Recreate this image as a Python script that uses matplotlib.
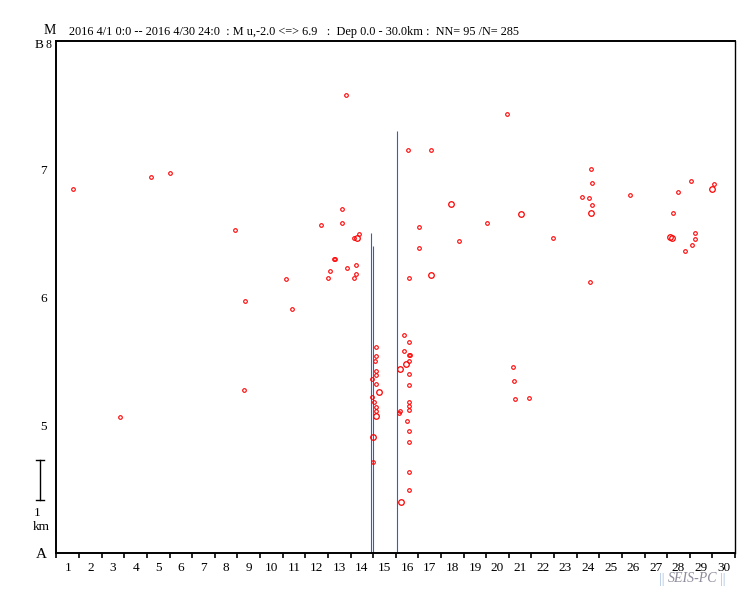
import matplotlib
matplotlib.use("Agg")
import matplotlib.pyplot as plt
from matplotlib.lines import Line2D
from matplotlib.transforms import ScaledTranslation

plt.rcParams['font.family'] = ['Liberation Serif', 'DejaVu Serif']

# ---- data (day of April 2016, magnitude, marker size class) ----
days = [0.73, 2.81, 4.19, 5.00, 7.89, 8.33, 8.28, 10.15, 10.40, 11.68,
        11.99, 12.08, 12.27, 12.31, 12.63, 12.63, 12.79, 12.83, 13.14, 13.29,
        13.36, 13.23, 13.23, 13.14,
        14.14, 14.14, 14.10, 14.14, 14.14, 13.97, 14.14, 14.26, 13.97, 14.05,
        14.14, 14.14, 14.12, 13.98, 14.00,
        15.38, 15.60, 15.38, 15.60, 15.62, 15.60, 15.44, 15.19, 15.60, 15.60,
        15.60, 15.60, 15.60, 15.19, 15.16, 15.51, 15.60, 15.60, 15.60, 15.60, 15.22,
        15.55, 16.57, 17.43, 16.04, 17.81, 16.04, 15.60, 16.54,
        20.19, 20.24, 20.28, 20.90,
        19.93, 23.64, 23.69, 23.25, 23.55, 23.69, 23.63, 25.37, 28.06, 27.49,
        29.08, 28.98, 27.27, 20.52, 19.02, 21.96, 27.11, 27.21, 28.22, 28.22,
        28.08, 27.80, 23.60]
mags = [6.84, 5.06, 6.94, 6.97, 6.52, 5.97, 5.27, 6.14, 5.91, 6.56,
        6.15, 6.20, 6.30, 6.30, 6.69, 6.58, 7.58, 6.23, 6.46, 6.46,
        6.49, 6.25, 6.18, 6.15,
        5.61, 5.54, 5.50, 5.42, 5.39, 5.36, 5.32, 5.26, 5.22, 5.18,
        5.14, 5.11, 5.07, 4.91, 4.71,
        5.70, 5.65, 5.58, 5.55, 5.55, 5.50, 5.48, 5.44, 5.40, 5.31,
        5.18, 5.15, 5.12, 5.11, 5.09, 5.03, 4.95, 4.87, 4.63, 4.49, 4.40,
        7.15, 7.15, 6.73, 6.55, 6.44, 6.38, 6.15, 6.17,
        5.45, 5.34, 5.20, 5.21,
        7.43, 7.00, 6.89, 6.78, 6.77, 6.72, 6.66, 6.80, 6.91, 6.82,
        6.88, 6.84, 6.66, 6.65, 6.58, 6.46, 6.47, 6.46, 6.50, 6.45,
        6.41, 6.36, 6.12]
large = [0, 0, 0, 0, 0, 0, 0, 0, 0, 0,
         0, 0, 0, 0, 0, 0, 0, 0, 0, 1,
         0, 0, 0, 0,
         0, 0, 0, 0, 0, 0, 0, 1, 0, 0,
         0, 0, 1, 1, 0,
         0, 0, 0, 0, 0, 0, 1, 1, 0, 0,
         0, 0, 0, 0, 0, 0, 0, 0, 0, 0, 1,
         0, 0, 1, 0, 0, 0, 0, 1,
         0, 0, 0, 0,
         0, 0, 0, 0, 0, 0, 1, 0, 0, 0,
         0, 1, 0, 1, 0, 0, 1, 1, 0, 0,
         0, 0, 0]

bar_days = [13.92, 14.00, 15.07]
bar_tops = [6.50, 6.40, 7.30]

day_labels = [str(i) for i in range(1, 31)]
mag_ticks = [4, 5, 6, 7, 8]
mag_labels = ["A", "5", "6", "7", "8"]

title = "2016 4/1 0:0 -- 2016 4/30 24:0  : M u,-2.0 <=> 6.9   :  Dep 0.0 - 30.0km :  NN= 95 /N= 285"

W, H = 751, 593
def fx(px): return px / W
def fy(py): return 1 - py / H

fig = plt.figure(figsize=(W / 100, H / 100), dpi=100)
ax = fig.add_axes([fx(56.5), 40 / H, 678.5 / W, 512 / H])
ax.set_xlim(0, 30)
ax.set_ylim(4, 8)

# vertical bars
ax.vlines(bar_days, 4, bar_tops, colors='#2a5fd8', linewidth=0.8, zorder=2)

# points
xs_s = [d for d, l in zip(days, large) if not l]
ys_s = [m for m, l in zip(mags, large) if not l]
xs_l = [d for d, l in zip(days, large) if l]
ys_l = [m for m, l in zip(mags, large) if l]
ax.plot(xs_s, ys_s, 'o', ms=2.6, mfc='none', mec='#ff0000', mew=0.8, zorder=3)
ax.plot(xs_l, ys_l, 'o', ms=4.0, mfc='none', mec='#ff0000', mew=0.9, zorder=3)

# spines
for s in ['left', 'bottom', 'top']:
    ax.spines[s].set_linewidth(1.4)
ax.spines['right'].set_linewidth(1.0)

# x ticks
ax.set_xticks(range(0, 31))
ax.set_xticklabels([])
ax.tick_params(axis='x', which='major', direction='out', length=3.5, width=1.2)
ax.set_xticks([i + 0.5 for i in range(30)], minor=True)
ax.set_xticklabels(day_labels, minor=True, fontsize=9.5)
ax.tick_params(axis='x', which='minor', length=0, pad=6.5)

# y ticks
ax.set_yticks(mag_ticks)
ax.set_yticklabels(mag_labels)
ax.tick_params(axis='y', which='major', length=0, pad=7, labelsize=9.5)
for lbl in ax.get_yticklabels():
    if lbl.get_text() == "A":
        lbl.set_fontsize(11)
    if lbl.get_text() == "8":
        lbl.set_fontsize(8.5)
        lbl.set_transform(lbl.get_transform() +
                          ScaledTranslation(3.2 / 72, -1.6 / 72, fig.dpi_scale_trans))

# header texts
fig.text(fx(50), fy(31), "M", ha='center', va='center', fontsize=10)
fig.text(fx(69), fy(32), title, ha='left', va='center', fontsize=8.8)
fig.text(fx(43.5), fy(45), "B", ha='right', va='center', fontsize=9.5)

# 1 km scale bar
fig.add_artist(Line2D([fx(39.7), fx(39.7)], [fy(459.5), fy(499.5)], color='black', lw=1.0))
fig.add_artist(Line2D([fx(35.7), fx(43.7)], [fy(459.5), fy(459.5)], color='black', lw=1.0))
fig.add_artist(Line2D([fx(35.7), fx(43.7)], [fy(499.5), fy(499.5)], color='black', lw=1.0))
fig.text(fx(37), fy(512.5), "1", ha='center', va='center', fontsize=9.5)
fig.text(fx(41), fy(527.5), "km", ha='center', va='center', fontsize=9.5)

# footer
fig.text(fx(661.5), fy(579), "||", ha='center', va='center', fontsize=10, color='#a9c3e0')
fig.text(fx(692.5), fy(579), "SEIS-PC", ha='center', va='center', fontsize=10,
         color='#8c8c9c', style='italic')
fig.text(fx(723), fy(579), "||", ha='center', va='center', fontsize=10, color='#a9c3e0')

fig.savefig("out.png", dpi=100)
